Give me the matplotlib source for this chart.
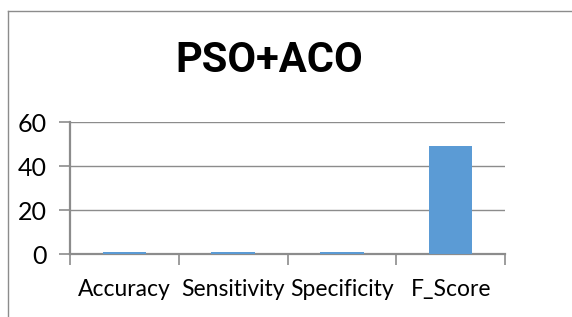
import numpy as np
import matplotlib
matplotlib.use("Agg")
import matplotlib.pyplot as plt
from matplotlib.lines import Line2D

# values
metrics = ["Accuracy", "Sensitivity", "Specificity", "F_Score"]
scores = [0.8, 0.8, 0.8, 49.0]
yticks = [0, 20, 40, 60]

plt.rcParams['font.family'] = ['Lato', 'DejaVu Sans']

fig = plt.figure(figsize=(5.72, 3.17), dpi=100)
W, H = 572, 317

# chart frame (cut by the page edges): only left and top visible
fx, fy = 7.5 / W, 1 - 10.5 / H
fig.add_artist(Line2D([fx, fx], [0, fy], transform=fig.transFigure,
                      color="#8c8c8c", linewidth=1.0))
fig.add_artist(Line2D([fx, 1], [fy, fy], transform=fig.transFigure,
                      color="#8c8c8c", linewidth=1.0))

ax = fig.add_axes([70 / W, 1 - 254 / H, (505 - 70) / W, (254 - 122) / H])
x = np.arange(len(metrics))
ax.bar(x, scores, width=0.4, color="#5b9bd5", zorder=3)

ax.set_xlim(-0.5, len(metrics) - 0.5)
ax.set_ylim(0, 60)
ax.set_yticks(yticks)
ax.set_yticklabels([str(v) for v in yticks], fontsize=18)
ax.set_xticks(np.arange(len(metrics) + 1) - 0.5)
ax.set_xticklabels([])
ax.set_xticks(x, minor=True)
ax.set_xticklabels(metrics, minor=True, fontsize=16.5)
ax.tick_params(axis="x", which="minor", length=0, pad=18)
ax.tick_params(axis="x", which="major", length=8, color="#8c8c8c", width=1.2)
ax.tick_params(axis="y", length=8, color="#8c8c8c", width=1.2, pad=9)

ax.grid(axis="y", color="#8c8c8c", linewidth=1.0, zorder=0)
for s in ["top", "right"]:
    ax.spines[s].set_visible(False)
for s in ["left", "bottom"]:
    ax.spines[s].set_color("#8c8c8c")
    ax.spines[s].set_linewidth(1.6)

fig.text(269 / W, 1 - 60 / H, "PSO+ACO", ha="center", va="center",
         fontsize=30, fontweight="bold", family=['Roboto', 'DejaVu Sans'])

fig.savefig("out.png", dpi=100)
